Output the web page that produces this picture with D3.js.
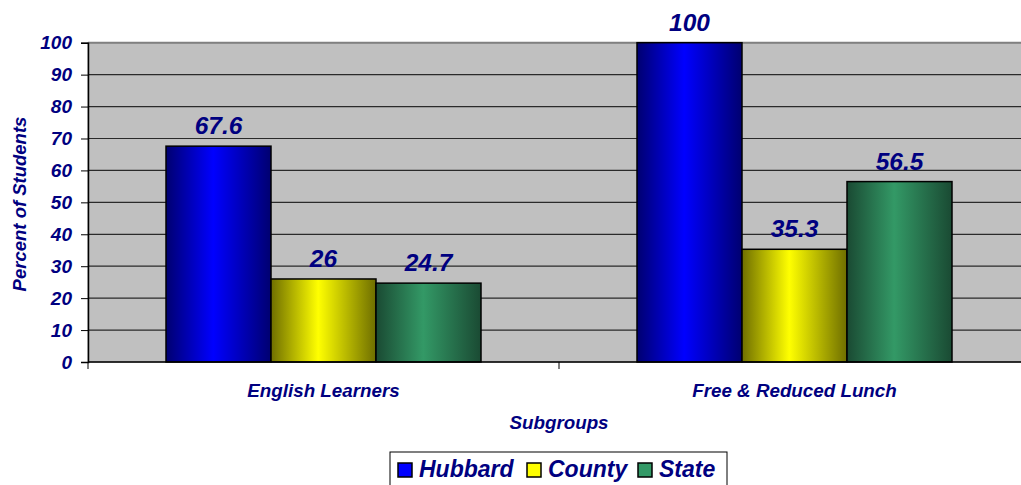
<!DOCTYPE html>
<html>
<head>
<meta charset="utf-8">
<script src="https://cdn.jsdelivr.net/npm/d3@7"></script>
<style>
  body { margin: 0; background: #ffffff; }
  svg { display: block; }
</style>
</head>
<body>
<div id="chart"></div>
<script>
// Chart data
const categories = ["English Learners", "Free & Reduced Lunch"];
const seriesNames = ["Hubbard", "County", "State"];
const hubbard = [67.6, 100];
const county = [26, 35.3];
const state = [24.7, 56.5];
const yTicks = [0, 10, 20, 30, 40, 50, 60, 70, 80, 90, 100];

const seriesValues = [hubbard, county, state];
const colors = [
    { dark: "#000070", light: "#0000ff", swatch: "#0000ff" },
    { dark: "#6e6e00", light: "#ffff00", swatch: "#ffff00" },
    { dark: "#1a4a33", light: "#339966", swatch: "#339966" }
];

const width = 1021;
const height = 485;
const navy = "#000080";
const fontFamily = "'Liberation Sans', Arial, sans-serif";

// Plot area (runs past the right edge, as in the original)
const plot = { left: 88, top: 42.7, right: 1030, bottom: 362 };

const svg = d3.select("#chart")
    .append("svg")
    .attr("width", width)
    .attr("height", height);

// Gradients for the cylinder-ish bars
const defs = svg.append("defs");
colors.forEach((c, i) => {
    const g = defs.append("linearGradient")
        .attr("id", "grad" + i)
        .attr("x1", "0%").attr("x2", "100%")
        .attr("y1", "0%").attr("y2", "0%");
    g.append("stop").attr("offset", "0%").attr("stop-color", c.dark);
    g.append("stop").attr("offset", "45%").attr("stop-color", c.light);
    g.append("stop").attr("offset", "100%").attr("stop-color", c.dark);
});

const x0 = d3.scaleBand()
    .domain(categories)
    .range([plot.left, plot.right])
    .paddingInner(0)
    .paddingOuter(0);

const groupWidth = 315;
const x1 = d3.scaleBand()
    .domain(seriesNames)
    .range([0, groupWidth]);

const y = d3.scaleLinear()
    .domain([0, 100])
    .range([plot.bottom, plot.top]);

// Plot background
svg.append("rect")
    .attr("x", plot.left)
    .attr("y", plot.top)
    .attr("width", plot.right - plot.left)
    .attr("height", plot.bottom - plot.top)
    .style("fill", "#c0c0c0")
    .style("stroke", "#808080")
    .style("stroke-width", 1);

// Gridlines
svg.append("g")
    .selectAll("line")
    .data(yTicks.filter(t => t > 0))
    .join("line")
    .attr("x1", plot.left)
    .attr("x2", plot.right)
    .attr("y1", d => y(d))
    .attr("y2", d => y(d))
    .style("stroke", d => d === 100 ? "#808080" : "#2a2a2a")
    .style("stroke-width", d => d === 100 ? 2 : 1.2);

// Bars
const groups = svg.append("g")
    .selectAll("g")
    .data(categories)
    .join("g")
    .attr("transform", (d, i) => `translate(${x0(d) + (x0.bandwidth() - groupWidth) / 2},0)`);

groups.selectAll("rect")
    .data((d, ci) => seriesNames.map((s, si) => ({ series: s, si: si, value: seriesValues[si][ci] })))
    .join("rect")
    .attr("x", d => x1(d.series))
    .attr("y", d => y(d.value))
    .attr("width", x1.bandwidth())
    .attr("height", d => y(0) - y(d.value))
    .style("fill", d => `url(#grad${d.si})`)
    .style("stroke", "#000000")
    .style("stroke-width", 1.5);

// Value labels
groups.selectAll("text")
    .data((d, ci) => seriesNames.map((s, si) => ({ series: s, value: seriesValues[si][ci] })))
    .join("text")
    .attr("x", d => x1(d.series) + x1.bandwidth() / 2)
    .attr("y", d => y(d.value) - 12)
    .attr("text-anchor", "middle")
    .style("fill", navy)
    .style("font-family", fontFamily)
    .style("font-size", "24.5px")
    .style("font-weight", "bold")
    .style("font-style", "italic")
    .text(d => d.value);

// Y axis
const yAxis = svg.append("g")
    .attr("transform", `translate(${plot.left},0)`)
    .call(d3.axisLeft(y).tickValues(yTicks).tickSize(7).tickPadding(9));

yAxis.select(".domain").style("stroke", "#000").style("stroke-width", 1.5);
yAxis.selectAll(".tick line").style("stroke", "#000");
yAxis.selectAll(".tick text")
    .style("fill", navy)
    .style("font-family", fontFamily)
    .style("font-size", "19px")
    .style("font-weight", "bold")
    .style("font-style", "italic");

// X axis
const xAxis = svg.append("g")
    .attr("transform", `translate(0,${plot.bottom})`);

xAxis.append("line")
    .attr("x1", plot.left).attr("x2", plot.right)
    .style("stroke", "#000").style("stroke-width", 1.5);

xAxis.selectAll("line.tick")
    .data([plot.left, x0(categories[1])])
    .join("line")
    .attr("class", "tick")
    .attr("x1", d => d).attr("x2", d => d)
    .attr("y1", 0).attr("y2", 7)
    .style("stroke", "#000");

xAxis.selectAll("text")
    .data(categories)
    .join("text")
    .attr("x", d => x0(d) + x0.bandwidth() / 2)
    .attr("y", 35)
    .attr("text-anchor", "middle")
    .style("fill", navy)
    .style("font-family", fontFamily)
    .style("font-size", "18.8px")
    .style("font-weight", "bold")
    .style("font-style", "italic")
    .text(d => d);

// Axis titles
svg.append("text")
    .attr("x", 559)
    .attr("y", 429)
    .attr("text-anchor", "middle")
    .style("fill", navy)
    .style("font-family", fontFamily)
    .style("font-size", "18.8px")
    .style("font-weight", "bold")
    .style("font-style", "italic")
    .text("Subgroups");

svg.append("text")
    .attr("transform", "translate(26,204) rotate(-90)")
    .attr("text-anchor", "middle")
    .style("fill", navy)
    .style("font-family", fontFamily)
    .style("font-size", "18.5px")
    .style("font-weight", "bold")
    .style("font-style", "italic")
    .text("Percent of Students");

// Legend
const legend = svg.append("g")
    .attr("transform", "translate(390,452)");

legend.append("rect")
    .attr("x", 0).attr("y", 0)
    .attr("width", 337).attr("height", 40)
    .style("fill", "#ffffff")
    .style("stroke", "#000")
    .style("stroke-width", 1);

const legendOffsets = [8, 137, 248];
const legendItems = legend.selectAll("g.item")
    .data(seriesNames)
    .join("g")
    .attr("class", "item")
    .attr("transform", (d, i) => `translate(${legendOffsets[i]},11)`);

legendItems.append("rect")
    .attr("width", 14).attr("height", 14)
    .style("fill", (d, i) => colors[i].swatch)
    .style("stroke", "#000")
    .style("stroke-width", 1.5);

legendItems.append("text")
    .attr("x", 21)
    .attr("y", 14)
    .style("fill", navy)
    .style("font-family", fontFamily)
    .style("font-size", "23px")
    .style("font-weight", "bold")
    .style("font-style", "italic")
    .text(d => d);
</script>
</body>
</html>
